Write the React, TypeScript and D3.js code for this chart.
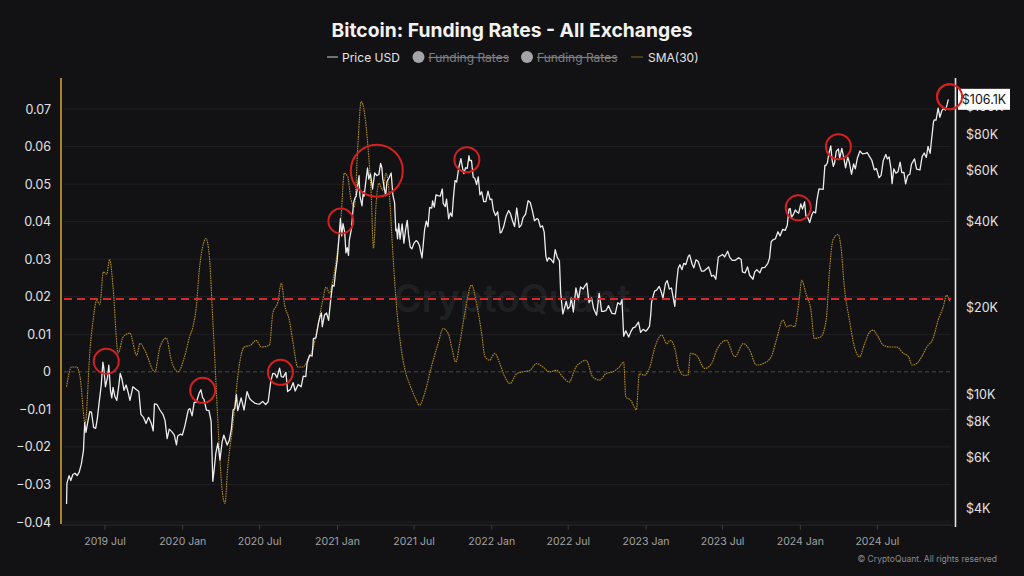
import * as d3 from "d3";
import { useEffect, useRef } from "react";

const W = 1024;
const H = 576;

// BTC price, USD (log scale)
const priceUsd: [string, number][] = [
  ["2019-04-01", 4140], ["2019-04-02", 4900], ["2019-04-07", 5200], ["2019-04-11", 5000], ["2019-04-16", 5250],
  ["2019-04-21", 5300], ["2019-04-26", 5200], ["2019-05-01", 5350], ["2019-05-06", 5700], ["2019-05-11", 6350],
  ["2019-05-14", 7950], ["2019-05-17", 7350], ["2019-05-21", 7950], ["2019-05-26", 8680], ["2019-05-30", 8650],
  ["2019-06-04", 7650], ["2019-06-09", 7600], ["2019-06-13", 8250], ["2019-06-17", 9300], ["2019-06-22", 10700],
  ["2019-06-26", 12900], ["2019-06-28", 12400], ["2019-07-02", 10600], ["2019-07-07", 11450], ["2019-07-10", 12600],
  ["2019-07-14", 10250], ["2019-07-17", 9700], ["2019-07-20", 10550], ["2019-07-24", 9850], ["2019-07-29", 9500],
  ["2019-08-03", 10800], ["2019-08-06", 11800], ["2019-08-10", 11300], ["2019-08-15", 10300], ["2019-08-20", 10750],
  ["2019-08-25", 10100], ["2019-08-29", 9500], ["2019-09-05", 10600], ["2019-09-12", 10400], ["2019-09-19", 10200],
  ["2019-09-24", 8500], ["2019-09-30", 8300], ["2019-10-06", 7900], ["2019-10-12", 8300], ["2019-10-18", 7950],
  ["2019-10-23", 7450], ["2019-10-26", 9250], ["2019-11-01", 9200], ["2019-11-08", 8800], ["2019-11-15", 8500],
  ["2019-11-20", 8100], ["2019-11-25", 7000], ["2019-11-30", 7550], ["2019-12-06", 7400], ["2019-12-12", 7200],
  ["2019-12-17", 6650], ["2019-12-20", 7150], ["2019-12-26", 7250], ["2019-12-31", 7200],
  ["2020-01-06", 7750], ["2020-01-14", 8800], ["2020-01-18", 8900], ["2020-01-23", 8400], ["2020-01-28", 9350],
  ["2020-02-02", 9350], ["2020-02-09", 10100], ["2020-02-13", 10350], ["2020-02-17", 9700], ["2020-02-20", 9600],
  ["2020-02-26", 8800], ["2020-03-03", 8750], ["2020-03-08", 8050], ["2020-03-12", 4970], ["2020-03-15", 5400],
  ["2020-03-19", 6200], ["2020-03-24", 6750], ["2020-03-29", 5900], ["2020-04-03", 6800], ["2020-04-07", 7200],
  ["2020-04-15", 6650], ["2020-04-20", 6900], ["2020-04-25", 7550], ["2020-04-29", 8800], ["2020-05-03", 8900],
  ["2020-05-07", 9950], ["2020-05-10", 8750], ["2020-05-18", 9700], ["2020-05-25", 8800], ["2020-06-01", 10200],
  ["2020-06-07", 9650], ["2020-06-13", 9450], ["2020-06-19", 9300], ["2020-06-25", 9250], ["2020-07-01", 9230],
  ["2020-07-08", 9430], ["2020-07-15", 9200], ["2020-07-21", 9400], ["2020-07-27", 11000], ["2020-08-01", 11800],
  ["2020-08-06", 11750], ["2020-08-11", 11400], ["2020-08-17", 12300], ["2020-08-21", 11500], ["2020-08-26", 11450],
  ["2020-09-01", 11900], ["2020-09-05", 10200], ["2020-09-12", 10400], ["2020-09-18", 10950], ["2020-09-23", 10250],
  ["2020-09-30", 10800], ["2020-10-07", 10600], ["2020-10-12", 11550], ["2020-10-18", 11500], ["2020-10-21", 12800],
  ["2020-10-27", 13650], ["2020-11-02", 13550], ["2020-11-05", 15600], ["2020-11-11", 15700], ["2020-11-17", 17650],
  ["2020-11-21", 18650], ["2020-11-24", 19150], ["2020-11-26", 17150], ["2020-12-01", 18800], ["2020-12-06", 19150],
  ["2020-12-11", 18050], ["2020-12-16", 21300], ["2020-12-20", 23900], ["2020-12-24", 23750], ["2020-12-27", 26300],
  ["2020-12-31", 29000],
  ["2021-01-03", 32800], ["2021-01-08", 40800], ["2021-01-11", 35500], ["2021-01-14", 39200], ["2021-01-18", 36600],
  ["2021-01-21", 31000], ["2021-01-24", 32300], ["2021-01-27", 30400], ["2021-01-29", 34300], ["2021-02-03", 37600],
  ["2021-02-08", 46200], ["2021-02-11", 48000], ["2021-02-14", 48700], ["2021-02-17", 52100], ["2021-02-21", 57500],
  ["2021-02-23", 48800], ["2021-02-28", 45200], ["2021-03-03", 50600], ["2021-03-05", 48800], ["2021-03-09", 54900],
  ["2021-03-13", 61200], ["2021-03-16", 56000], ["2021-03-20", 58300], ["2021-03-25", 51700], ["2021-03-30", 58800],
  ["2021-04-04", 57600], ["2021-04-09", 58100], ["2021-04-13", 63500], ["2021-04-16", 61300], ["2021-04-18", 56200],
  ["2021-04-22", 51800], ["2021-04-25", 49000], ["2021-04-28", 54900], ["2021-05-03", 56600], ["2021-05-08", 58800],
  ["2021-05-12", 49200], ["2021-05-16", 46400], ["2021-05-19", 37000], ["2021-05-21", 37500], ["2021-05-23", 34700],
  ["2021-05-26", 39200], ["2021-05-29", 34600], ["2021-06-03", 39100], ["2021-06-07", 33500], ["2021-06-11", 37300],
  ["2021-06-15", 40200], ["2021-06-18", 35800], ["2021-06-22", 32500], ["2021-06-26", 32000], ["2021-07-01", 33500],
  ["2021-07-06", 34200], ["2021-07-10", 33800], ["2021-07-14", 32800], ["2021-07-20", 29800], ["2021-07-26", 37300],
  ["2021-07-30", 40000], ["2021-08-03", 38200], ["2021-08-07", 44600], ["2021-08-12", 44400], ["2021-08-14", 47000],
  ["2021-08-18", 44700], ["2021-08-22", 49300], ["2021-08-27", 49000], ["2021-09-01", 48800], ["2021-09-06", 51700],
  ["2021-09-08", 46100], ["2021-09-13", 44900], ["2021-09-16", 47700], ["2021-09-21", 40700], ["2021-09-25", 42700],
  ["2021-09-29", 41500], ["2021-10-02", 47700], ["2021-10-06", 55300], ["2021-10-10", 54700], ["2021-10-15", 61600],
  ["2021-10-20", 65900], ["2021-10-24", 61000], ["2021-10-27", 58500], ["2021-10-31", 61300], ["2021-11-04", 61000],
  ["2021-11-08", 67500], ["2021-11-10", 64900], ["2021-11-14", 65000], ["2021-11-18", 56900], ["2021-11-22", 56300],
  ["2021-11-26", 53600], ["2021-11-30", 57000], ["2021-12-04", 49300], ["2021-12-08", 50600], ["2021-12-13", 46700],
  ["2021-12-18", 46700], ["2021-12-23", 50800], ["2021-12-28", 47500],
  ["2022-01-01", 47700], ["2022-01-05", 43500], ["2022-01-10", 41800], ["2022-01-15", 43100], ["2022-01-21", 36400],
  ["2022-01-24", 36600], ["2022-01-29", 38200], ["2022-02-04", 41600], ["2022-02-10", 43500], ["2022-02-14", 42500],
  ["2022-02-19", 40100], ["2022-02-24", 38300], ["2022-03-01", 44400], ["2022-03-07", 38000], ["2022-03-12", 38800],
  ["2022-03-16", 41100], ["2022-03-22", 42300], ["2022-03-28", 47100], ["2022-04-02", 46400], ["2022-04-07", 43500],
  ["2022-04-12", 40100], ["2022-04-18", 40800], ["2022-04-21", 40500], ["2022-04-26", 38100], ["2022-05-01", 38500],
  ["2022-05-05", 36600], ["2022-05-09", 30200], ["2022-05-12", 29000], ["2022-05-16", 29800], ["2022-05-21", 29400],
  ["2022-05-27", 28600], ["2022-05-31", 31800], ["2022-06-05", 29900], ["2022-06-10", 29100], ["2022-06-13", 22500],
  ["2022-06-18", 19000], ["2022-06-22", 19900], ["2022-06-26", 21000], ["2022-06-30", 19800], ["2022-07-05", 20200],
  ["2022-07-08", 21600], ["2022-07-13", 19300], ["2022-07-19", 23400], ["2022-07-25", 21300], ["2022-07-30", 23600],
  ["2022-08-05", 23200], ["2022-08-10", 23900], ["2022-08-14", 24300], ["2022-08-19", 20800], ["2022-08-25", 21600],
  ["2022-08-30", 19800], ["2022-09-06", 18800], ["2022-09-12", 22400], ["2022-09-18", 19400], ["2022-09-22", 19400],
  ["2022-09-28", 19500], ["2022-10-04", 20300], ["2022-10-12", 19100], ["2022-10-20", 19000], ["2022-10-26", 20800],
  ["2022-11-01", 20500], ["2022-11-05", 21300], ["2022-11-09", 15900], ["2022-11-14", 16600], ["2022-11-21", 15800],
  ["2022-11-26", 16500], ["2022-12-01", 17000], ["2022-12-06", 17100], ["2022-12-14", 17800], ["2022-12-19", 16400],
  ["2022-12-25", 16800], ["2022-12-31", 16550],
  ["2023-01-05", 16850], ["2023-01-09", 17200], ["2023-01-12", 18850], ["2023-01-14", 20900], ["2023-01-21", 22800],
  ["2023-01-26", 23000], ["2023-02-01", 23700], ["2023-02-05", 22900], ["2023-02-10", 21600], ["2023-02-16", 24300],
  ["2023-02-20", 24800], ["2023-02-25", 23200], ["2023-03-02", 23400], ["2023-03-10", 20200], ["2023-03-14", 24200],
  ["2023-03-18", 27400], ["2023-03-22", 28200], ["2023-03-27", 27100], ["2023-03-31", 28500], ["2023-04-05", 28200],
  ["2023-04-11", 30200], ["2023-04-14", 30500], ["2023-04-20", 28300], ["2023-04-24", 27500], ["2023-04-29", 29300],
  ["2023-05-04", 29000], ["2023-05-09", 27600], ["2023-05-12", 26800], ["2023-05-18", 26800], ["2023-05-23", 27200],
  ["2023-05-29", 27700], ["2023-06-05", 25700], ["2023-06-10", 25900], ["2023-06-15", 25100], ["2023-06-21", 30000],
  ["2023-06-26", 30300], ["2023-07-01", 30600], ["2023-07-06", 30000], ["2023-07-13", 31400], ["2023-07-18", 29900],
  ["2023-07-24", 29200], ["2023-07-31", 29200], ["2023-08-08", 29800], ["2023-08-14", 29400], ["2023-08-17", 26600],
  ["2023-08-23", 26400], ["2023-08-29", 27700], ["2023-09-03", 25900], ["2023-09-11", 25100], ["2023-09-15", 26600],
  ["2023-09-20", 27100], ["2023-09-27", 26400], ["2023-10-02", 27500], ["2023-10-09", 27600], ["2023-10-16", 28500],
  ["2023-10-20", 29700], ["2023-10-24", 33900], ["2023-10-29", 34500], ["2023-11-03", 34700], ["2023-11-09", 36700],
  ["2023-11-14", 35500], ["2023-11-20", 37400], ["2023-11-26", 37100], ["2023-12-01", 38700], ["2023-12-05", 44000],
  ["2023-12-08", 44200], ["2023-12-11", 41200], ["2023-12-16", 42300], ["2023-12-20", 43700], ["2023-12-24", 43000],
  ["2023-12-28", 42600],
  ["2024-01-02", 45900], ["2024-01-06", 44000], ["2024-01-11", 46600], ["2024-01-14", 41700], ["2024-01-18", 41300],
  ["2024-01-23", 39500], ["2024-01-28", 42000], ["2024-02-01", 43100], ["2024-02-06", 42700], ["2024-02-09", 47100],
  ["2024-02-14", 51800], ["2024-02-19", 51700], ["2024-02-24", 51600], ["2024-02-28", 62500], ["2024-03-01", 62400],
  ["2024-03-05", 63800], ["2024-03-08", 68300], ["2024-03-13", 73100], ["2024-03-16", 65300], ["2024-03-19", 62000],
  ["2024-03-22", 63800], ["2024-03-26", 70000], ["2024-03-31", 71300], ["2024-04-03", 66000], ["2024-04-08", 71600],
  ["2024-04-12", 67200], ["2024-04-17", 61300], ["2024-04-22", 66800], ["2024-04-26", 63800], ["2024-05-01", 58200],
  ["2024-05-06", 63200], ["2024-05-10", 60800], ["2024-05-15", 66300], ["2024-05-21", 70100], ["2024-05-27", 68500],
  ["2024-06-03", 68800], ["2024-06-07", 69300], ["2024-06-12", 67300], ["2024-06-18", 65100], ["2024-06-24", 60300],
  ["2024-06-29", 60900], ["2024-07-05", 56600], ["2024-07-10", 57700], ["2024-07-15", 64800], ["2024-07-21", 68200],
  ["2024-07-25", 65800], ["2024-07-29", 66800], ["2024-08-02", 61400], ["2024-08-05", 54000], ["2024-08-09", 60800],
  ["2024-08-14", 58700], ["2024-08-19", 59400], ["2024-08-24", 64100], ["2024-08-28", 59000], ["2024-09-02", 59100],
  ["2024-09-06", 53900], ["2024-09-11", 57600], ["2024-09-16", 58200], ["2024-09-20", 63200], ["2024-09-27", 65800],
  ["2024-10-02", 60600], ["2024-10-10", 60300], ["2024-10-15", 67000], ["2024-10-20", 69000], ["2024-10-25", 66600],
  ["2024-10-29", 72700], ["2024-11-03", 68800], ["2024-11-06", 75900], ["2024-11-11", 88700], ["2024-11-13", 90000],
  ["2024-11-17", 89800], ["2024-11-22", 98900], ["2024-11-26", 91900], ["2024-12-01", 97100], ["2024-12-05", 98700],
  ["2024-12-09", 97300], ["2024-12-13", 101400], ["2024-12-16", 106100],
];

// Funding rates, 30-day SMA
const fundingSma30: [string, number][] = [
  ["2019-04-01", -0.004], ["2019-04-13", 0.0013], ["2019-04-25", 0.0013], ["2019-05-03", -0.0014], ["2019-05-15", -0.0137],
  ["2019-05-27", 0.0066], ["2019-06-03", 0.0138], ["2019-06-11", 0.019], ["2019-06-19", 0.018], ["2019-06-27", 0.0266],
  ["2019-07-05", 0.026], ["2019-07-12", 0.03], ["2019-07-20", 0.0226], ["2019-08-01", 0.005], ["2019-08-13", 0.0093],
  ["2019-08-29", 0.0103], ["2019-09-14", 0.0044], ["2019-09-22", 0.0076], ["2019-10-03", 0.0058], ["2019-10-27", 0],
  ["2019-11-08", 0.0066], ["2019-11-23", 0.009], ["2019-12-05", 0.003], ["2019-12-21", 0], ["2020-01-05", 0.004],
  ["2020-01-17", 0.0093], ["2020-01-25", 0.012], ["2020-02-02", 0.0173], ["2020-02-09", 0.027], ["2020-02-17", 0.0333],
  ["2020-02-25", 0.0355], ["2020-03-04", 0.0306], ["2020-03-12", 0.0138], ["2020-03-20", -0.004], ["2020-03-28", -0.0217],
  ["2020-04-04", -0.0324], ["2020-04-10", -0.035], ["2020-04-16", -0.026], ["2020-04-28", -0.0147], ["2020-05-13", 0.0013],
  ["2020-05-25", 0.0066], ["2020-06-10", 0.0071], ["2020-06-22", 0.0084], ["2020-07-05", 0.0066], ["2020-07-24", 0.0071],
  ["2020-08-01", 0.0156], ["2020-08-13", 0.0186], ["2020-08-21", 0.0236], ["2020-08-29", 0.0178], ["2020-09-09", 0.0138],
  ["2020-09-17", 0.0084], ["2020-09-29", 0.0013], ["2020-10-11", 0.0013], ["2020-10-26", 0.004], ["2020-11-03", 0.0058],
  ["2020-11-15", 0.012], ["2020-11-27", 0.019], ["2020-12-05", 0.0226], ["2020-12-13", 0.021], ["2020-12-21", 0.0244],
  ["2021-01-02", 0.0333], ["2021-01-10", 0.0422], ["2021-01-17", 0.0529], ["2021-01-25", 0.052], ["2021-02-02", 0.0458],
  ["2021-02-10", 0.044], ["2021-02-18", 0.06], ["2021-02-26", 0.072], ["2021-03-06", 0.0689], ["2021-03-14", 0.06],
  ["2021-03-22", 0.0466], ["2021-03-27", 0.0329], ["2021-04-03", 0.0458], ["2021-04-09", 0.0502], ["2021-04-18", 0.0484],
  ["2021-04-26", 0.0529], ["2021-05-04", 0.0466], ["2021-05-12", 0.0315], ["2021-05-20", 0.0182], ["2021-05-28", 0.0093],
  ["2021-06-12", -0.0005], ["2021-06-20", -0.0031], ["2021-07-03", -0.0067], ["2021-07-14", -0.0089], ["2021-07-26", -0.0058],
  ["2021-08-11", 0.0013], ["2021-08-27", 0.0075], ["2021-09-08", 0.0115], ["2021-09-20", 0.0102], ["2021-09-28", 0.0066],
  ["2021-10-08", 0.0026], ["2021-10-17", 0.0075], ["2021-10-29", 0.0155], ["2021-11-14", 0.0231], ["2021-11-26", 0.0182],
  ["2021-12-08", 0.0102], ["2021-12-16", 0.004], ["2021-12-27", 0.0031], ["2022-01-08", 0.0049], ["2022-01-20", 0.0022],
  ["2022-02-01", -0.0014], ["2022-02-13", -0.0031], ["2022-03-01", -0.0005], ["2022-03-16", 0], ["2022-04-01", 0.0004],
  ["2022-04-17", 0.0022], ["2022-05-02", 0.0013], ["2022-05-18", 0], ["2022-06-03", 0.0004], ["2022-06-18", -0.0014],
  ["2022-07-03", -0.0027], ["2022-07-19", 0.0013], ["2022-07-27", 0.0022], ["2022-08-12", 0.0031], ["2022-08-28", -0.0014],
  ["2022-09-13", -0.0022], ["2022-09-28", -0.0005], ["2022-10-14", 0], ["2022-10-30", 0.0013], ["2022-11-09", 0.0026],
  ["2022-11-14", -0.0067], ["2022-11-26", -0.0076], ["2022-12-09", -0.0101], ["2022-12-16", -0.0005], ["2022-12-28", -0.0009],
  ["2023-01-10", 0.0013], ["2023-01-22", 0.0066], ["2023-02-07", 0.0098], ["2023-02-19", 0.0075], ["2023-02-27", 0.0084],
  ["2023-03-11", 0.0058], ["2023-03-19", 0.0009], ["2023-03-31", -0.0009], ["2023-04-10", -0.0009], ["2023-04-16", 0.0049],
  ["2023-04-30", 0.0044], ["2023-05-20", 0.0009], ["2023-06-05", 0.0022], ["2023-06-17", 0.0058], ["2023-07-10", 0.0084],
  ["2023-07-30", 0.004], ["2023-08-19", 0.0075], ["2023-09-03", 0.0058], ["2023-09-19", 0.0018], ["2023-10-05", 0.0022],
  ["2023-10-24", 0.004], ["2023-11-05", 0.0084], ["2023-11-21", 0.0138], ["2023-11-29", 0.012], ["2023-12-10", 0.0124],
  ["2023-12-18", 0.012], ["2023-12-30", 0.02], ["2024-01-04", 0.0244], ["2024-01-14", 0.0209], ["2024-01-26", 0.0164],
  ["2024-02-03", 0.0089], ["2024-02-18", 0.0093], ["2024-03-02", 0.0138], ["2024-03-10", 0.0271], ["2024-03-18", 0.0351],
  ["2024-03-30", 0.0366], ["2024-04-06", 0.0333], ["2024-04-14", 0.0226], ["2024-04-26", 0.0138], ["2024-05-08", 0.0066],
  ["2024-05-20", 0.004], ["2024-06-01", 0.0075], ["2024-06-13", 0.0106], ["2024-06-21", 0.0111], ["2024-07-03", 0.0093],
  ["2024-07-15", 0.0071], ["2024-08-01", 0.0066], ["2024-08-16", 0.0066], ["2024-09-01", 0.0049], ["2024-09-13", 0.004],
  ["2024-09-21", 0.0018], ["2024-10-02", 0.0022], ["2024-10-14", 0.004], ["2024-10-26", 0.0066], ["2024-11-10", 0.0089],
  ["2024-11-22", 0.0138], ["2024-12-04", 0.0173], ["2024-12-12", 0.0204], ["2024-12-20", 0.0186],
];

const rateTicks = [-0.04, -0.03, -0.02, -0.01, 0, 0.01, 0.02, 0.03, 0.04, 0.05, 0.06, 0.07];
const priceTicks = [4000, 6000, 8000, 10000, 20000, 40000, 60000, 80000, 100000];
const dateTicks = [
  "2019-07-01", "2020-01-01", "2020-07-01", "2021-01-01", "2021-07-01", "2022-01-01",
  "2022-07-01", "2023-01-01", "2023-07-01", "2024-01-01", "2024-07-01",
];
// red circled price tops: [date, price, wide]
const highlights: [string, number, boolean][] = [
  ["2019-07-04", 13000, false],
  ["2020-02-17", 10300, false],
  ["2020-08-19", 11900, false],
  ["2021-01-09", 40000, false],
  ["2021-04-04", 59900, true],
  ["2021-11-03", 65400, false],
  ["2023-12-27", 44500, false],
  ["2024-03-31", 72600, false],
  ["2024-12-19", 108400, false],
];
const rateThreshold = 0.0194;
const lastPrice = 106100;

const FONT = "Inter, 'Noto Sans', sans-serif";

export default function App() {
  const ref = useRef<SVGSVGElement | null>(null);

  useEffect(() => {
    const svg = d3.select(ref.current);
    svg.selectAll("*").remove();
    const parse = d3.timeParse("%Y-%m-%d");

    const x = d3
      .scaleTime()
      .domain([parse("2019-07-01")!, parse("2024-07-01")!])
      .range([105, 877.3]);
    const yRate = d3.scaleLinear().domain([-0.04, 0.07]).range([522, 109]);
    const yPrice = d3.scaleLog().domain([4000, 100000]).range([508.4, 106.7]);

    svg.append("rect").attr("width", W).attr("height", H).attr("fill", "#121215");

    // grid
    const grid = svg.append("g");
    rateTicks.forEach((t) => {
      grid
        .append("line")
        .attr("x1", 64)
        .attr("x2", 951)
        .attr("y1", yRate(t))
        .attr("y2", yRate(t))
        .attr("stroke", t === 0 ? "#4a4a4e" : "#212125")
        .attr("stroke-dasharray", t === 0 ? "4 3" : null)
        .attr("stroke-width", 1);
    });

    // watermark
    svg
      .append("text")
      .attr("x", 512)
      .attr("y", 312)
      .attr("text-anchor", "middle")
      .style("font-family", FONT)
      .style("font-weight", 600)
      .style("font-size", "38px")
      .style("fill", "rgba(255,255,255,0.08)")
      .text("CryptoQuant");

    // funding SMA line
    const rateLine = d3
      .line<[string, number]>()
      .x((d) => x(parse(d[0])!))
      .y((d) => yRate(d[1]))
      .curve(d3.curveMonotoneX);
    svg
      .append("path")
      .datum(fundingSma30)
      .attr("d", rateLine)
      .attr("fill", "none")
      .attr("stroke", "#b08a1f")
      .attr("stroke-width", 1.1)
      .attr("stroke-dasharray", "1.6 0.8");

    // price line
    const priceLine = d3
      .line<[string, number]>()
      .x((d) => x(parse(d[0])!))
      .y((d) => yPrice(d[1]));
    svg
      .append("path")
      .datum(priceUsd)
      .attr("d", priceLine)
      .attr("fill", "none")
      .attr("stroke", "#ececec")
      .attr("stroke-width", 1.3)
      .attr("stroke-linejoin", "round");

    // threshold
    svg
      .append("line")
      .attr("x1", 64)
      .attr("x2", 951)
      .attr("y1", yRate(rateThreshold))
      .attr("y2", yRate(rateThreshold))
      .attr("stroke", "#d42a2a")
      .attr("stroke-width", 2)
      .attr("stroke-dasharray", "8 5");

    // circles
    highlights.forEach(([d, p, wide]) => {
      svg
        .append("circle")
        .attr("cx", x(parse(d)!))
        .attr("cy", yPrice(p))
        .attr("r", wide ? 26 : 12.5)
        .attr("fill", "none")
        .attr("stroke", "#d61f1f")
        .attr("stroke-width", 2);
    });

    // axes lines
    svg
      .append("line")
      .attr("x1", 62)
      .attr("x2", 953)
      .attr("y1", 525)
      .attr("y2", 525)
      .attr("stroke", "#2c2c30");
    svg
      .append("line")
      .attr("x1", 61)
      .attr("x2", 61)
      .attr("y1", 78)
      .attr("y2", 524)
      .attr("stroke", "#d0a02c")
      .attr("stroke-width", 1.6);
    svg
      .append("line")
      .attr("x1", 955.5)
      .attr("x2", 955.5)
      .attr("y1", 78)
      .attr("y2", 527)
      .attr("stroke", "#e4e4e4")
      .attr("stroke-width", 1.6);

    // left ticks
    rateTicks.forEach((t) => {
      svg
        .append("text")
        .attr("x", 51)
        .attr("y", yRate(t) + 4.5)
        .attr("text-anchor", "end")
        .style("font-family", FONT)
        .style("font-size", "12.5px")
        .style("fill", "#e2e2e2")
        .text(t === 0 ? "0" : d3.format("")(t));
    });

    // right ticks
    priceTicks.forEach((t) => {
      svg
        .append("text")
        .attr("x", 966)
        .attr("y", yPrice(t) + 4.5)
        .style("font-family", FONT)
        .style("font-size", "12.5px")
        .style("fill", "#e2e2e2")
        .text(`$${t / 1000}K`);
    });

    // last price tag
    const tag = svg.append("g").attr("transform", `translate(958, ${yPrice(lastPrice) - 10.5})`);
    tag.append("rect").attr("width", 52).attr("height", 21).attr("fill", "#ffffff");
    tag
      .append("text")
      .attr("x", 26)
      .attr("y", 15)
      .attr("text-anchor", "middle")
      .style("font-family", FONT)
      .style("font-size", "12.5px")
      .style("fill", "#111")
      .text(`$${(lastPrice / 1000).toFixed(1)}K`);
    // redraw last circle over tag
    const last = highlights[highlights.length - 1];
    svg
      .append("circle")
      .attr("cx", x(parse(last[0])!))
      .attr("cy", yPrice(last[1]))
      .attr("r", 12.5)
      .attr("fill", "none")
      .attr("stroke", "#d61f1f")
      .attr("stroke-width", 2);

    // x ticks
    const fmt = d3.timeFormat("%Y %b");
    dateTicks.forEach((s) => {
      const px = x(parse(s)!);
      svg
        .append("line")
        .attr("x1", px)
        .attr("x2", px)
        .attr("y1", 525)
        .attr("y2", 530)
        .attr("stroke", "#3a3a3e");
      svg
        .append("text")
        .attr("x", px)
        .attr("y", 545)
        .attr("text-anchor", "middle")
        .style("font-family", FONT)
        .style("font-size", "10.5px")
        .style("fill", "#a2a2a2")
        .text(fmt(parse(s)!));
    });

    // title
    svg
      .append("text")
      .attr("x", 512)
      .attr("y", 36.5)
      .attr("text-anchor", "middle")
      .style("font-family", FONT)
      .style("font-weight", 700)
      .style("font-size", "19.3px")
      .style("fill", "#f2f2f2")
      .text("Bitcoin: Funding Rates - All Exchanges");

    // legend
    const lg = svg.append("g").style("font-family", FONT).style("font-size", "12px");
    lg.append("line").attr("x1", 327).attr("x2", 338).attr("y1", 57).attr("y2", 57).attr("stroke", "#cfcfcf");
    lg.append("text").attr("x", 342).attr("y", 61.5).style("fill", "#e4e4e4").text("Price USD");
    [418.5, 527].forEach((cx) => {
      lg.append("circle").attr("cx", cx).attr("cy", 57).attr("r", 6).attr("fill", "#a4a4a8");
      lg.append("text")
        .attr("x", cx + 10)
        .attr("y", 61.5)
        .style("fill", "#7d7d82")
        .style("text-decoration", "line-through")
        .text("Funding Rates");
    });
    lg.append("line").attr("x1", 631).attr("x2", 643).attr("y1", 57).attr("y2", 57).attr("stroke", "#7a6a1e");
    lg.append("text").attr("x", 648).attr("y", 61.5).style("fill", "#e4e4e4").text("SMA(30)");

    // credit
    svg
      .append("text")
      .attr("x", 997)
      .attr("y", 562)
      .attr("text-anchor", "end")
      .style("font-family", FONT)
      .style("font-size", "8.5px")
      .style("fill", "#8a8a8e")
      .text("© CryptoQuant. All rights reserved");
  }, []);

  return (
    <svg
      ref={ref}
      width={W}
      height={H}
      style={{ position: "absolute", left: 0, top: 0, display: "block" }}
    ></svg>
  );
}
